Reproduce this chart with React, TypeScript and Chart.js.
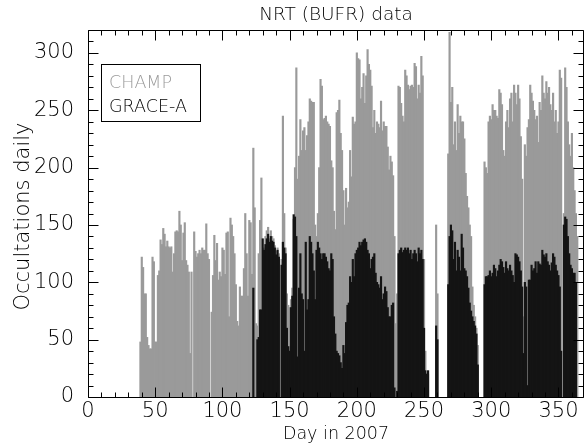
import React, { useEffect, useRef } from "react";
import { Chart, registerables } from "chart.js";

Chart.register(...registerables);

// ---- data ----
const CHAMP_FIRST_DAY = 39;
const champDaily: (number | null)[] = [
  48, 122, 113, 90, 90, 52, 45, 42, 42, 122,
  118, 48, 48, 106, 110, 137, 133, 147, 142, 131,
  136, 131, 130, 131, 109, 125, 144, 145, 144, 162,
  150, 119, 143, 152, 119, 115, 109, 38, 109, null,
  144, 127, 122, 125, 128, 125, 130, 128, 128, 151,
  125, 120, null, 74, 106, 141, 119, 134, 102, 109,
  105, 130, 128, 107, 143, 144, 70, 156, 150, 140,
  125, 98, 66, 62, 96, 88, 88, 112, 160, 125,
  88, 154, 152, 107, 217, 165, 64, 62, 125, 154,
  191, 84, 130, 140, 145, 148, 138, 145, 140, 138,
  132, 127, 130, 125, null, 120, 245, 160, 130, 90,
  80, 78, 85, 95, 155, 200, 287, 190, 210, 242,
  215, 232, 235, 215, 228, 240, 260, 258, 257, 257,
  150, 140, 160, 200, 277, 271, 242, 243, 245, 240,
  238, 236, 206, 200, 162, 146, 248, 250, 259, 230,
  215, 180, 150, 182, 165, 170, 215, 192, 244, 238,
  240, 300, 295, 294, 260, 270, 282, 256, 280, 303,
  290, 285, 271, 235, 250, 230, 240, 238, 235, 258,
  232, 240, 236, 236, 218, 198, 210, 205, 193, 140,
  64, 90, 271, 270, 256, 245, 240, 285, 280, 272,
  268, 271, 272, 270, 291, 288, 260, 272, 265, 297,
  280, 120, 40, 20, 20, null, null, null, null, null,
  150, 90, null, null, null, null, null, null, null, 212,
  318, 257, 270, 220, 240, 215, 255, 230, 245, 240,
  240, 225, 195, 175, 165, 150, 140, 96, 80, 70,
  60, 45, null, null, null, null, 205, 200, 195, 240,
  245, 242, 255, 250, 250, 245, 243, 268, 265, 255,
  215, 210, 240, 250, 235, 260, 265, 240, 272, 265,
  255, 272, 260, 227, 190, 70, 220, 210, 235, 242,
  272, 265, 258, 250, 242, 245, 222, 257, 250, 280,
  265, 260, 275, 265, 270, 255, 250, 265, 240, 250,
  230, 240, 285, 278, null, 160, 287, 270, 240, 220,
  210, 230, 200, 180, 160, 140,
];

const GRACE_FIRST_DAY = 123;
const graceDaily: (number | null)[] = [
  95, null, null, 50, 52, 76, 76, 138, 128, 133,
  138, 142, 135, 140, 136, 135, 130, 124, 128, 122,
  null, 115, 135, 130, 125, 60, 44, 40, 78, 88,
  159, 157, 140, 35, 95, 125, 90, 85, 40, 135,
  76, 85, 140, 135, 125, 110, 85, 128, 135, 130,
  125, 120, 125, 125, 122, 118, 112, 110, 125, 120,
  70, 55, 40, 38, 36, 30, 25, 45, 38, 65,
  80, 82, 105, 100, 120, 105, 125, 128, 130, 135,
  132, 135, 137, 138, 135, 128, 125, 112, 120, 122,
  125, 108, 100, 98, 95, 105, 85, 90, 96, 92,
  78, 70, 70, 80, 82, 8, null, 5, 125, 128,
  130, 126, 128, 130, 128, 130, 125, 128, 120, 125,
  128, 125, 118, 130, 125, 128, 120, 60, 23, 20,
  23, null, null, null, null, null, 62, 50, null, null,
  null, null, null, null, null, 98, 140, 150, 145, 120,
  135, 110, 128, 122, 110, 142, 130, 112, 110, 105,
  95, 82, 75, 70, 66, 62, 55, 28, null, null,
  null, null, 98, 105, 105, 106, 110, 105, 108, 115,
  112, 105, 110, 115, 120, 118, 113, 108, 118, 112,
  110, 115, 110, 106, 100, 125, 124, 122, 118, 110,
  96, 38, 100, 96, 10, 102, 102, 115, 110, 112,
  118, 108, 118, 116, 115, 128, 124, 122, 125, 118,
  115, 110, 117, 125, 122, 115, 110, 106, 96, 40,
  null, 150, 157, 155, 140, 125, 115, 112, 108, 108,
  100, null,
];

const xTickValues = [0, 50, 100, 150, 200, 250, 300, 350];
const yTickValues = [0, 50, 100, 150, 200, 250, 300];
const X_MAX = 369;
const Y_MAX = 320;
const MINOR_STEP = 10;

const TITLE = "NRT (BUFR) data";
const X_TITLE = "Day in 2007";
const Y_TITLE = "Occultations daily";
const seriesNames = ["CHAMP", "GRACE-A"];
const seriesColors = ["#9a9a9a", "#141414"];
const legendTextColors = ["#9a9a9a", "#000000"];

const FAMILY = '"DejaVu Sans", sans-serif';
const WEIGHT = "200";

function toPoints(first: number, vals: (number | null)[]) {
  return vals.map((v, i) => ({ x: first + i, y: v }));
}

const idlPlugin = {
  id: "idlFrame",
  afterDatasetsDraw(chart: any) {
    const { ctx, chartArea: a } = chart;
    const xs = chart.scales.x;
    const ys = chart.scales.y;
    const L = Math.round(a.left) + 0.5;
    const R = Math.round(a.right) - 0.5;
    const T = Math.round(a.top) + 0.5;
    const B = Math.round(a.bottom) + 0.5;
    ctx.save();
    ctx.strokeStyle = "#000";
    ctx.lineWidth = 1;
    ctx.beginPath();
    ctx.moveTo(L, T);
    ctx.lineTo(R, T);
    ctx.lineTo(R, B);
    ctx.lineTo(L, B);
    ctx.closePath();
    for (let v = 0; v <= X_MAX; v += MINOR_STEP) {
      const px = Math.round(xs.getPixelForValue(v)) + 0.5;
      const len = v % 50 === 0 ? 10 : 5;
      ctx.moveTo(px, B);
      ctx.lineTo(px, B - len);
      ctx.moveTo(px, T);
      ctx.lineTo(px, T + len);
    }
    for (let v = 0; v <= Y_MAX; v += MINOR_STEP) {
      const py = Math.round(ys.getPixelForValue(v)) + 0.5;
      const len = v % 50 === 0 ? 10 : 5;
      ctx.moveTo(L, py);
      ctx.lineTo(L + len, py);
      ctx.moveTo(R, py);
      ctx.lineTo(R - len, py);
    }
    ctx.stroke();
    ctx.restore();
  },
  afterDraw(chart: any) {
    const { ctx, chartArea: a } = chart;
    const cx = (a.left + a.right) / 2;
    ctx.save();
    ctx.fillStyle = "#000";
    ctx.textAlign = "center";
    ctx.textBaseline = "alphabetic";
    // title
    ctx.font = `${WEIGHT} 18.5px ${FAMILY}`;
    ctx.fillText(TITLE, cx, 20);
    // x title
    ctx.font = `${WEIGHT} 17.5px ${FAMILY}`;
    ctx.fillText(X_TITLE, cx, 439);
    // y title
    ctx.save();
    ctx.translate(29, (a.top + a.bottom) / 2 + 3);
    ctx.rotate(-Math.PI / 2);
    ctx.font = `${WEIGHT} 21px ${FAMILY}`;
    ctx.fillText(Y_TITLE, 0, 0);
    ctx.restore();
    // legend box
    ctx.strokeStyle = "#000";
    ctx.lineWidth = 1;
    ctx.fillStyle = "#fff";
    ctx.fillRect(102, 64, 99, 58);
    ctx.strokeRect(101.5, 64.5, 99, 57);
    ctx.textAlign = "left";
    ctx.font = `${WEIGHT} 17.5px ${FAMILY}`;
    seriesNames.forEach((name, i) => {
      ctx.fillStyle = legendTextColors[i];
      ctx.fillText(name, 109, 87.6 + i * 24.2);
    });
    ctx.restore();
  },
};

export default function App() {
  const ref = useRef<HTMLCanvasElement | null>(null);
  useEffect(() => {
    if (!ref.current) return;
    const chart = new Chart(ref.current, {
      type: "bar",
      data: {
        datasets: [
          {
            label: seriesNames[1],
            data: toPoints(GRACE_FIRST_DAY, graceDaily) as any,
            backgroundColor: seriesColors[1],
            grouped: false,
            order: 0,
            barThickness: 1.5,
            borderWidth: 0,
          } as any,
          {
            label: seriesNames[0],
            data: toPoints(CHAMP_FIRST_DAY, champDaily) as any,
            backgroundColor: seriesColors[0],
            grouped: false,
            order: 1,
            barThickness: 1.5,
            borderWidth: 0,
          } as any,
        ],
      },
      options: {
        animation: false,
        responsive: false,
        devicePixelRatio: 1,
        layout: { padding: { top: 30, left: 0, right: 0, bottom: 0 } },
        plugins: {
          legend: { display: false },
          tooltip: { enabled: false },
          title: { display: false },
        },
        scales: {
          x: {
            type: "linear",
            min: 0,
            max: X_MAX,
            offset: false,
            grid: { display: false },
            border: { display: false },
            ticks: {
              font: { family: FAMILY, size: 21, weight: WEIGHT as any },
              color: "#000",
              padding: -6,
              maxRotation: 0,
              autoSkip: false,
            },
            afterBuildTicks: (s: any) => {
              s.ticks = xTickValues.map((v) => ({ value: v }));
            },
            afterFit: (s: any) => {
              s.height = 50;
            },
          },
          y: {
            type: "linear",
            min: 0,
            max: Y_MAX,
            grid: { display: false },
            border: { display: false },
            ticks: {
              font: { family: FAMILY, size: 21, weight: WEIGHT as any },
              color: "#000",
              padding: 6,
              autoSkip: false,
            },
            afterBuildTicks: (s: any) => {
              s.ticks = yTickValues.map((v) => ({ value: v }));
            },
            afterFit: (s: any) => {
              s.width = 88;
            },
          },
        },
      } as any,
      plugins: [idlPlugin],
    });
    return () => chart.destroy();
  }, []);
  return (
    <div style={{ position: "fixed", left: 0, top: 0, width: 584, height: 447, background: "#fff" }}>
      <canvas ref={ref} width={584} height={447} style={{ display: "block" }} />
    </div>
  );
}
